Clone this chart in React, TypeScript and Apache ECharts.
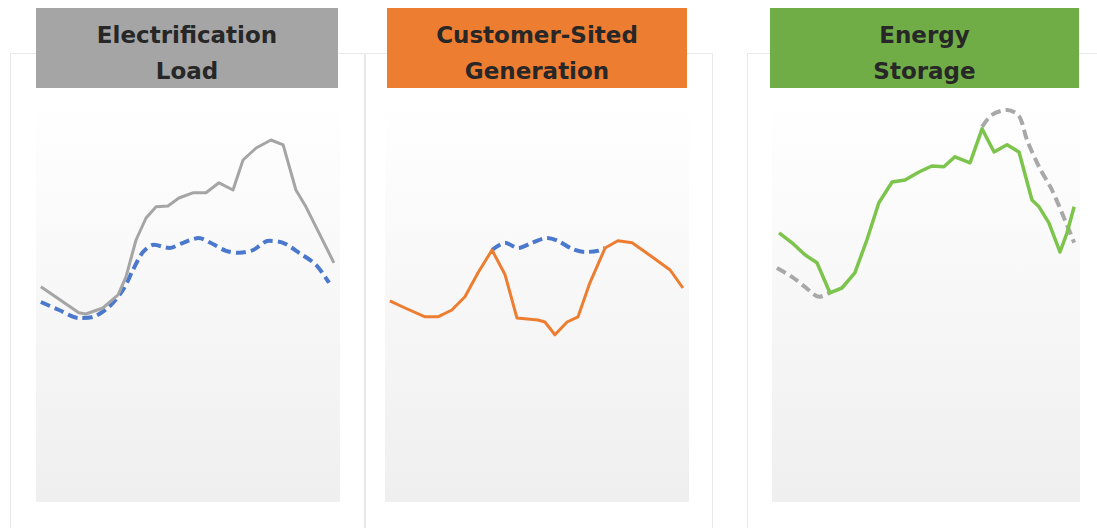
import React, { useEffect, useRef } from "react";
import * as echarts from "echarts";

// Header titles (two lines each) and their colours
const titleLines = [
  ["Electrification", "Load"],
  ["Customer-Sited", "Generation"],
  ["Energy", "Storage"],
];
const headerColors = ["#a5a5a5", "#ed7d31", "#70ad47"];

// x: share of the day (0-100), y: relative load (0-100)
const electrificationLoad = [
  [1.6, 53.3], [14.1, 46.8], [16.4, 46.5], [22.0, 48.0], [27.0, 51.3], [29.6, 55.8],
  [32.9, 65.0], [36.2, 70.5], [39.5, 73.3], [43.4, 73.5], [47.0, 75.5], [51.6, 76.8],
  [55.9, 76.8], [60.2, 79.3], [64.8, 77.5], [68.1, 85.0], [72.4, 88.0], [77.3, 90.0],
  [81.3, 88.8], [85.5, 77.5], [88.8, 73.3], [98.0, 59.3],
];
const baselineLoad = [
  [1.6, 49.5], [7.6, 47.5], [14.1, 45.5], [18.8, 45.8], [24.0, 48.3], [28.6, 52.5],
  [31.9, 57.5], [35.2, 62.0], [38.8, 63.8], [43.8, 63.0], [48.4, 64.3], [53.6, 65.5],
  [56.9, 64.5], [62.5, 62.3], [66.8, 61.8], [71.4, 62.5], [76.6, 64.8], [81.3, 64.3],
  [86.5, 61.8], [92.1, 58.8], [96.4, 54.3],
];
const customerGeneration = [
  [1.6, 49.8], [6.6, 48.0], [13.2, 45.8], [17.4, 45.8], [22.0, 47.5], [26.3, 50.8],
  [30.6, 56.8], [35.2, 62.5], [39.5, 56.3], [43.4, 45.5], [50.3, 45.0], [52.6, 44.5],
  [55.9, 41.3], [59.9, 44.5], [63.5, 45.8], [67.4, 54.3], [72.4, 63.0], [76.6, 64.8],
  [81.3, 64.3], [87.8, 60.8], [93.8, 57.5], [98.0, 53.0],
];
const baselineMidday = [
  [35.2, 62.5], [39.5, 64.3], [43.8, 63.0], [48.4, 64.3], [53.3, 65.5], [56.9, 64.8],
  [61.5, 62.8], [65.8, 62.0], [70.1, 62.3], [72.4, 63.0],
];
const storageLoad = [
  [2.3, 66.8], [6.5, 64.3], [10.7, 61.3], [14.6, 59.3], [18.8, 51.8], [22.7, 53.0],
  [26.9, 56.8], [30.8, 65.0], [34.7, 74.3], [39.0, 79.5], [43.2, 80.0], [47.7, 82.0],
  [51.9, 83.5], [55.8, 83.3], [59.4, 85.8], [64.3, 84.3], [68.2, 92.8], [72.1, 87.0],
  [76.3, 88.8], [80.2, 87.0], [84.4, 75.0], [86.7, 73.3], [89.9, 69.3], [93.5, 62.0],
  [95.8, 66.8], [98.1, 73.3],
];
const preStorageMorning = [
  [1.6, 58.0], [6.5, 55.8], [10.7, 53.3], [15.3, 50.8], [18.8, 51.8],
];
const preStorageEvening = [
  [68.2, 93.3], [71.4, 96.3], [76.3, 97.5], [80.2, 96.0], [82.8, 90.0], [86.7, 83.3],
  [90.9, 77.5], [95.1, 70.0], [98.1, 64.3],
];

const grids = [
  { left: 36, top: 100, width: 304, height: 400 },
  { left: 385, top: 100, width: 304, height: 400 },
  { left: 772, top: 100, width: 308, height: 400 },
];
const outerPanels = [
  { x: 10.5, y: 53.5, width: 354, height: 520 },
  { x: 365.5, y: 53.5, width: 347, height: 520 },
  { x: 747.5, y: 53.5, width: 400, height: 520 },
];
const headerBoxes = [
  { x: 36, y: 8, width: 302, height: 80 },
  { x: 387, y: 8, width: 300, height: 80 },
  { x: 770, y: 8, width: 309, height: 80 },
];

export default function App() {
  const ref = useRef<HTMLDivElement>(null);

  useEffect(() => {
    if (!ref.current) return;
    const chart = echarts.init(ref.current, undefined, { renderer: "svg" });

    const graphic: any[] = [];
    outerPanels.forEach((p) => {
      graphic.push({
        type: "rect",
        z: -10,
        shape: p,
        style: { fill: "#ffffff", stroke: "#e8e8e8", lineWidth: 1 },
      });
    });
    grids.forEach((g) => {
      graphic.push({
        type: "rect",
        z: -9,
        shape: { x: g.left, y: g.top, width: g.width, height: 402 },
        style: {
          fill: new echarts.graphic.LinearGradient(0, 0, 0, 1, [
            { offset: 0, color: "#ffffff" },
            { offset: 1, color: "#efefef" },
          ]),
        },
      });
    });
    headerBoxes.forEach((b, i) => {
      graphic.push({
        type: "rect",
        z: -8,
        shape: b,
        style: { fill: headerColors[i] },
      });
      titleLines[i].forEach((t, j) => {
        graphic.push({
          type: "text",
          z: -7,
          x: b.x + b.width / 2,
          y: 34.5 + j * 36,
          style: {
            text: t,
            fill: "#272727",
            fontFamily: "DejaVu Sans",
            fontWeight: "bold",
            fontSize: 23,
            textAlign: "center",
            textVerticalAlign: "middle",
          },
        });
      });
    });

    const axisBase = { type: "value", min: 0, max: 100, show: false, splitLine: { show: false } };

    const solid = (data: number[][], color: string, gi: number, width = 3) => ({
      type: "line",
      xAxisIndex: gi,
      yAxisIndex: gi,
      data,
      symbol: "none",
      z: 3,
      lineStyle: { color, width, type: "solid", join: "round" },
    });
    const dashed = (data: number[][], color: string, gi: number) => ({
      type: "line",
      xAxisIndex: gi,
      yAxisIndex: gi,
      data,
      symbol: "none",
      smooth: 0.3,
      z: 2,
      lineStyle: { color, width: 4, type: [10, 5] },
    });

    chart.setOption({
      animation: false,
      backgroundColor: "#ffffff",
      grid: grids,
      xAxis: grids.map((_, i) => ({ ...axisBase, gridIndex: i })),
      yAxis: grids.map((_, i) => ({ ...axisBase, gridIndex: i })),
      graphic,
      series: [
        dashed(baselineLoad, "#4a78cc", 0),
        solid(electrificationLoad, "#a5a5a5", 0),
        dashed(baselineMidday, "#4a78cc", 1),
        solid(customerGeneration, "#ed7d31", 1),
        dashed(preStorageMorning, "#a8a8a8", 2),
        dashed(preStorageEvening, "#a8a8a8", 2),
        solid(storageLoad, "#7cc44c", 2, 3.5),
      ],
    });

    return () => chart.dispose();
  }, []);

  return (
    <div
      ref={ref}
      style={{ position: "absolute", left: 0, top: 0, width: 1097, height: 528 }}
    />
  );
}
